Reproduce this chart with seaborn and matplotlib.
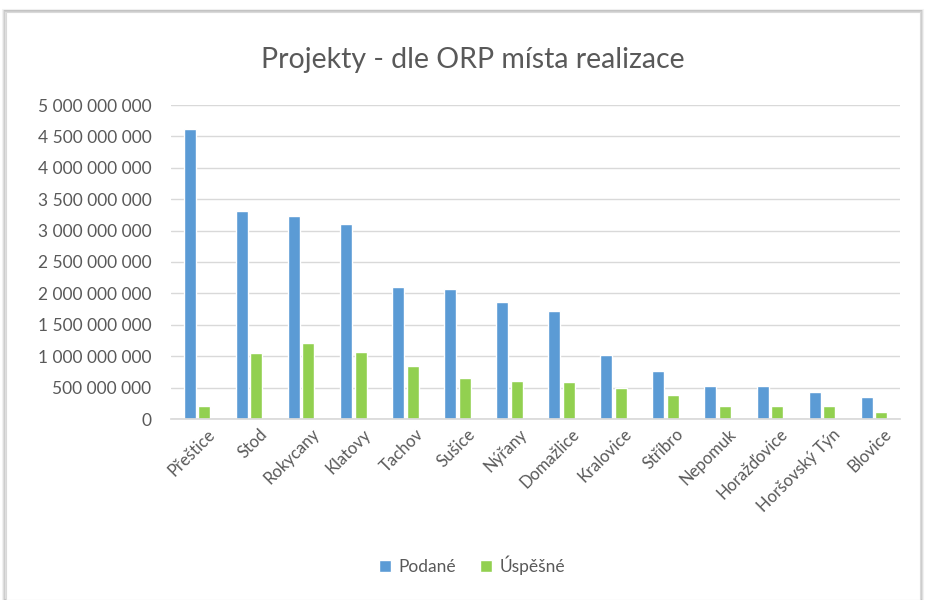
import numpy as np
import pandas as pd
import seaborn as sns
import matplotlib.pyplot as plt
import matplotlib.transforms as mtransforms
from matplotlib.patches import Rectangle

orp = ["Přeštice", "Stod", "Rokycany", "Klatovy", "Tachov", "Sušice", "Nýřany",
       "Domažlice", "Kralovice", "Stříbro", "Nepomuk", "Horažďovice",
       "Horšovský Týn", "Blovice"]
podane = [4.62e9, 3.31e9, 3.23e9, 3.10e9, 2.10e9, 2.07e9, 1.86e9,
          1.72e9, 1.02e9, 0.76e9, 0.52e9, 0.52e9, 0.43e9, 0.355e9]
uspesne = [0.21e9, 1.05e9, 1.21e9, 1.07e9, 0.84e9, 0.65e9, 0.61e9,
           0.59e9, 0.49e9, 0.39e9, 0.20e9, 0.20e9, 0.20e9, 0.11e9]
series = ["Podané", "Úspěšné"]
colors = ["#5B9BD5", "#92D050"]

df = pd.DataFrame({"orp": orp * 2,
                   "value": podane + uspesne,
                   "serie": [series[0]] * len(orp) + [series[1]] * len(orp)})

sns.set_theme(style="white")
plt.rcParams["font.family"] = ["Lato", "DejaVu Sans"]
grey = "#595959"

fig = plt.figure(figsize=(9.28, 6), dpi=100)
fig.patch.set_facecolor("white")

# chart frame with a soft shadow like the Excel screenshot
for i, a in enumerate([0.05, 0.08, 0.12]):
    d = (3 - i) / 928
    fig.patches.append(Rectangle((6 / 928 - d, 0), (914 / 928) + 2 * d, 1 - 12 / 600 + d,
                                 transform=fig.transFigure, facecolor="none",
                                 edgecolor="black", alpha=a, lw=1.5, zorder=-2))
fig.patches.append(Rectangle((6 / 928, 0), 914 / 928, 1 - 12 / 600,
                             transform=fig.transFigure, facecolor="white",
                             edgecolor="#d9d9d9", lw=0.8, zorder=-1))

ax = fig.add_axes([171 / 928, 1 - 419 / 600, (900 - 171) / 928, (419 - 105) / 600])
sns.barplot(data=df, x="orp", y="value", hue="serie", palette=colors,
            width=0.56, gap=0.18, saturation=1, ax=ax, legend=True)

ax.set_ylim(0, 5e9)
ax.set_xlim(-0.5, len(orp) - 0.5)
ticks = np.arange(0, 5.01e9, 5e8)
ax.set_yticks(ticks)
ax.set_yticklabels(["0" if t == 0 else f"{int(t):,}".replace(",", " ") for t in ticks],
                   color=grey, fontsize=12.5)
ax.set_xticks(range(len(orp)))
ax.set_xticklabels(orp, rotation=45, ha="right", rotation_mode="anchor",
                   color=grey, fontsize=12)
ax.tick_params(axis="y", length=0, pad=14)
ax.tick_params(axis="x", length=0, pad=5)
# Excel puts the end of the rotated label a bit right of the category centre
shift = mtransforms.ScaledTranslation(7 / 72, 0, fig.dpi_scale_trans)
for lbl in ax.get_xticklabels():
    lbl.set_transform(lbl.get_transform() + shift)
ax.set_xlabel("")
ax.set_ylabel("")
ax.grid(axis="y", color="#d9d9d9", lw=1)
ax.set_axisbelow(True)
for s in ["top", "right", "left"]:
    ax.spines[s].set_visible(False)
ax.spines["bottom"].set_color("#d9d9d9")

fig.text(473 / 928, 1 - 60 / 600, "Projekty - dle ORP místa realizace",
         ha="center", va="center", fontsize=20.5, color=grey)

handles, labels = ax.get_legend_handles_labels()
ax.legend(handles, labels, loc="center", bbox_to_anchor=(472 / 928, 1 - 565 / 600),
          bbox_transform=fig.transFigure, ncol=2, frameon=False, fontsize=12.5,
          labelcolor=grey, handlelength=0.7, handleheight=0.7, handletextpad=0.4,
          columnspacing=1.4)

fig.savefig("out.png", dpi=100)
